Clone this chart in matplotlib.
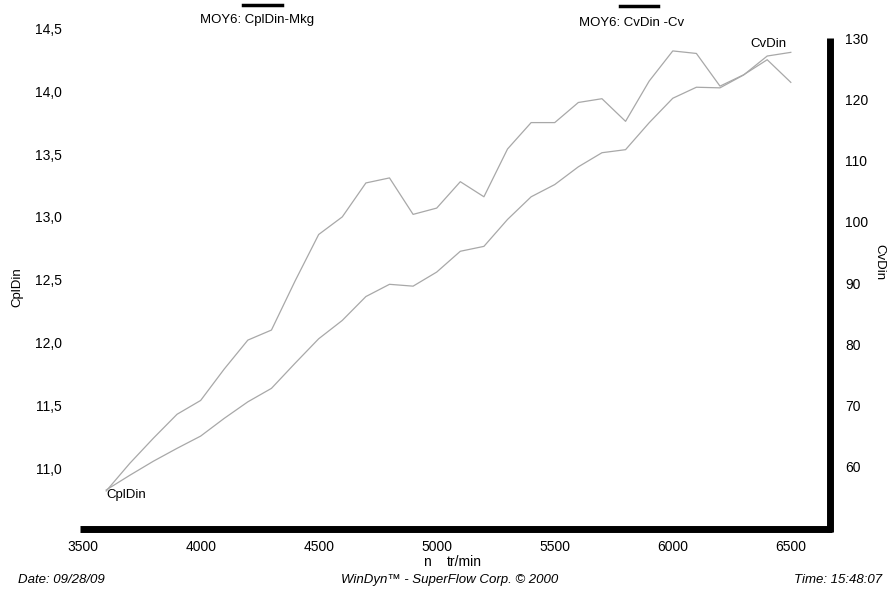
import numpy as np
import matplotlib
matplotlib.use("Agg")
import matplotlib.pyplot as plt
from matplotlib.lines import Line2D

plt.rcParams['font.family'] = ['Liberation Sans', 'DejaVu Sans']

# régime moteur (tr/min)
rpm = [3600, 3700, 3800, 3900, 4000, 4100, 4200, 4300, 4400, 4500,
       4600, 4700, 4800, 4900, 5000, 5100, 5200, 5300, 5400, 5500,
       5600, 5700, 5800, 5900, 6000, 6100, 6200, 6300, 6400, 6500]

# couple (mkg)
cpl_din = [10.82, 11.04, 11.24, 11.43, 11.54, 11.79, 12.02, 12.10, 12.49, 12.86,
           13.00, 13.27, 13.31, 13.02, 13.07, 13.28, 13.16, 13.54, 13.75, 13.75,
           13.91, 13.94, 13.76, 14.08, 14.32, 14.30, 14.04, 14.13, 14.25, 14.07]

# puissance (cv)
cv_din = [56.2, 58.6, 60.9, 63.0, 65.0, 67.9, 70.6, 72.8, 76.9, 80.9,
          83.9, 87.8, 89.8, 89.5, 91.8, 95.2, 96.0, 100.4, 104.1, 106.1,
          109.0, 111.3, 111.8, 116.2, 120.2, 122.0, 121.9, 124.0, 127.1, 127.7]

x_ticks = [3500, 4000, 4500, 5000, 5500, 6000, 6500]
left_ticks = [11.0, 11.5, 12.0, 12.5, 13.0, 13.5, 14.0, 14.5]
right_ticks = [60, 70, 80, 90, 100, 110, 120, 130]

W, H = 888, 590
fig = plt.figure(figsize=(W / 100, H / 100), dpi=100)

# axes box in pixels
x0, x1 = 80, 830
y_top, y_bot = 28.3, 528.7
ax = fig.add_axes([x0 / W, 1 - y_bot / H, (x1 - x0) / W, (y_bot - y_top) / H])
ax2 = ax.twinx()

line_col = '#a8a8a8'
ax.plot(rpm, cpl_din, color=line_col, lw=0.9)
ax2.plot(rpm, cv_din, color=line_col, lw=0.9)

ax.set_xlim(3489, 6666)
ax.set_ylim(10.52, 14.5)
ax2.set_ylim(49.87, 131.63)

for a in (ax, ax2):
    for s in a.spines.values():
        s.set_visible(False)

ax.spines['bottom'].set_visible(True)
ax.spines['bottom'].set_linewidth(5)
ax.spines['bottom'].set_capstyle('butt')
ax.spines['bottom'].set_bounds(3489, 6676)
ax2.spines['right'].set_visible(True)
ax2.spines['right'].set_linewidth(5)
ax2.spines['right'].set_capstyle('butt')
ax2.spines['right'].set_bounds(49.3, 130)

ax.set_xticks(x_ticks)
ax.set_xticklabels([str(v) for v in x_ticks])
ax.set_yticks(left_ticks)
ax.set_yticklabels([f"{v:.1f}".replace('.', ',') for v in left_ticks])
ax2.set_yticks(right_ticks)
ax2.set_yticklabels([str(v) for v in right_ticks])

ax.tick_params(axis='x', length=0, pad=8, labelsize=10)
ax.tick_params(axis='y', length=0, pad=13, labelsize=10)
ax2.tick_params(axis='y', length=0, pad=11, labelsize=10)

# curve labels
ax.annotate('CplDin', (rpm[0], cpl_din[0]), xytext=(0, -3), textcoords='offset points',
            ha='left', va='center', fontsize=9.5)
ax2.annotate('CvDin', (rpm[-1], cv_din[-1]), xytext=(-3, 2), textcoords='offset points',
             ha='right', va='bottom', fontsize=9.5)

# axis titles
fig.text(17 / W, 1 - 287 / H, 'CplDin', rotation=90, ha='center', va='center', fontsize=9.5)
fig.text(879 / W, 1 - 262 / H, 'CvDin', rotation=270, ha='center', va='center', fontsize=9.5)
fig.text(423 / W, 1 - 562 / H, 'n', ha='left', va='center', fontsize=10)
fig.text(447 / W, 1 - 562 / H, 'tr/min', ha='left', va='center', fontsize=10)

# legend-like headers
fig.text(257.5 / W, 1 - 20.5 / H, 'MOY6: CplDin-Mkg', ha='center', va='center', fontsize=9.5)
fig.text(631.5 / W, 1 - 22.5 / H, 'MOY6: CvDin -Cv', ha='center', va='center', fontsize=9.5)
fig.add_artist(Line2D([243 / W, 282 / W], [1 - 5 / H, 1 - 5 / H], color='black', lw=2.5))
fig.add_artist(Line2D([620 / W, 658 / W], [1 - 6 / H, 1 - 6 / H], color='black', lw=2.5))

# footer
fig.text(18 / W, 1 - 580 / H, 'Date: 09/28/09', ha='left', va='center', fontsize=9.5, style='italic')
fig.text(450 / W, 1 - 580 / H, 'WinDyn™ - SuperFlow Corp. © 2000', ha='center', va='center',
         fontsize=9.5, style='italic')
fig.text(882 / W, 1 - 580 / H, 'Time: 15:48:07', ha='right', va='center', fontsize=9.5, style='italic')

fig.savefig('out.png', dpi=100)
